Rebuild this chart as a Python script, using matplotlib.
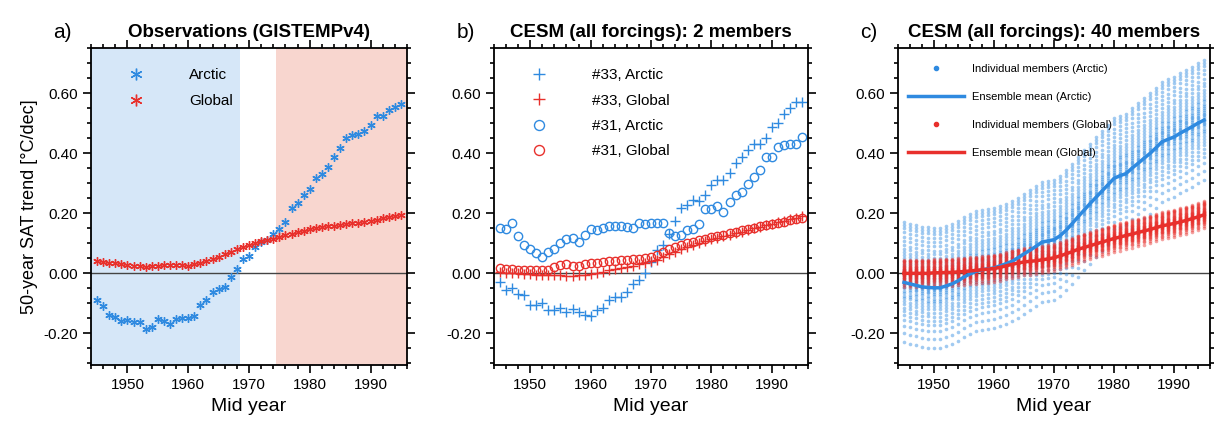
import numpy as np
import matplotlib
matplotlib.use("Agg")
import matplotlib.pyplot as plt
from matplotlib.ticker import MultipleLocator

plt.rcParams['font.family'] = ['Liberation Sans', 'DejaVu Sans']

years = list(range(1945, 1996))

obs_arctic = [-0.090,-0.107,-0.137,-0.146,-0.157,-0.155,-0.162,-0.162,-0.184,-0.177,
              -0.151,-0.157,-0.168,-0.151,-0.149,-0.149,-0.141,-0.104,-0.088,-0.062,
              -0.051,-0.046,-0.012,0.016,0.049,0.057,0.088,0.104,0.112,0.130,
              0.149,0.171,0.218,0.234,0.262,0.282,0.318,0.332,0.354,0.388,
              0.416,0.449,0.460,0.463,0.474,0.493,0.523,0.525,0.543,0.552,0.562]
obs_global = [0.040,0.037,0.035,0.033,0.030,0.027,0.025,0.024,0.022,0.023,
              0.025,0.027,0.028,0.028,0.027,0.026,0.030,0.034,0.040,0.047,
              0.055,0.063,0.072,0.080,0.088,0.095,0.102,0.108,0.112,0.115,
              0.120,0.126,0.132,0.138,0.142,0.146,0.150,0.153,0.156,0.159,
              0.162,0.165,0.166,0.169,0.172,0.175,0.179,0.183,0.186,0.190,0.195]

m33_arctic = [-0.029,-0.057,-0.049,-0.068,-0.073,-0.104,-0.104,-0.098,-0.123,-0.123,
              -0.116,-0.129,-0.120,-0.129,-0.137,-0.143,-0.123,-0.116,-0.088,-0.079,
              -0.079,-0.062,-0.037,-0.021,0.000,0.038,0.077,0.093,0.132,0.173,
              0.216,0.229,0.243,0.240,0.260,0.293,0.312,0.310,0.334,0.368,
              0.388,0.410,0.429,0.429,0.449,0.486,0.501,0.530,0.551,0.571,0.571]
m33_global = [0.003,0.002,0.001,0.000,-0.002,-0.003,-0.004,-0.005,-0.006,-0.006,
              -0.007,-0.008,-0.008,-0.006,-0.005,-0.003,0.000,0.005,0.010,0.015,
              0.018,0.022,0.026,0.030,0.034,0.040,0.046,0.055,0.064,0.072,
              0.080,0.088,0.096,0.102,0.108,0.113,0.118,0.123,0.128,0.133,
              0.138,0.144,0.150,0.155,0.160,0.165,0.170,0.175,0.180,0.185,0.190]
m31_arctic = [0.152,0.149,0.166,0.123,0.096,0.080,0.069,0.054,0.070,0.082,
              0.102,0.113,0.118,0.104,0.127,0.149,0.143,0.152,0.158,0.158,
              0.158,0.154,0.152,0.166,0.163,0.168,0.168,0.166,0.134,0.124,
              0.127,0.143,0.149,0.163,0.213,0.213,0.223,0.204,0.238,0.260,
              0.271,0.297,0.321,0.343,0.386,0.386,0.419,0.427,0.430,0.432,0.454]
m31_global = [0.018,0.015,0.013,0.011,0.012,0.010,0.011,0.010,0.012,0.020,
              0.028,0.030,0.026,0.024,0.030,0.035,0.036,0.037,0.040,0.042,
              0.044,0.046,0.047,0.048,0.050,0.055,0.062,0.070,0.080,0.088,
              0.094,0.100,0.105,0.110,0.115,0.120,0.124,0.128,0.133,0.138,
              0.143,0.148,0.152,0.156,0.160,0.164,0.168,0.172,0.176,0.180,0.184]

ens_arctic = [-0.030,-0.035,-0.040,-0.045,-0.047,-0.048,-0.048,-0.042,-0.035,-0.025,
              -0.012,-0.002,0.007,0.012,0.015,0.018,0.025,0.032,0.040,0.052,
              0.065,0.077,0.090,0.104,0.108,0.112,0.125,0.143,0.165,0.188,
              0.210,0.232,0.253,0.274,0.295,0.316,0.325,0.332,0.350,0.366,
              0.383,0.399,0.418,0.438,0.446,0.454,0.466,0.477,0.488,0.500,0.510]
ens_global = [0.000,0.000,0.000,0.000,0.000,0.002,0.002,0.003,0.003,0.005,
              0.006,0.008,0.010,0.012,0.014,0.016,0.020,0.025,0.030,0.034,
              0.038,0.040,0.042,0.045,0.048,0.052,0.058,0.065,0.072,0.080,
              0.086,0.092,0.098,0.104,0.110,0.116,0.121,0.126,0.131,0.136,
              0.141,0.146,0.152,0.158,0.162,0.166,0.171,0.176,0.182,0.188,0.195]
# hand-set relative member positions within the ensemble spread
member_offsets = [-1.0,-0.85,-0.72,-0.62,-0.55,-0.48,-0.42,-0.36,-0.31,-0.26,
                  -0.22,-0.18,-0.14,-0.10,-0.07,-0.04,-0.02,0.0,0.02,0.05,
                  0.08,0.11,0.14,0.17,0.2,0.23,0.27,0.31,0.35,0.4,
                  0.45,0.5,0.56,0.62,0.69,0.76,0.83,0.9,0.95,1.0]
arctic_halfwidth = 0.2
global_halfwidth = 0.045

BLUE = '#2f8ae0'
RED = '#e8302c'

fig = plt.figure(figsize=(12.14, 4.23), dpi=100)
W, H = 1214, 423
def mkax(x0, x1):
    return fig.add_axes([x0 / W, (H - 365) / H, (x1 - x0) / W, (365 - 48) / H])
axes = [mkax(91, 407), mkax(494, 808), mkax(898, 1210)]
titles = ['Observations (GISTEMPv4)', 'CESM (all forcings): 2 members', 'CESM (all forcings): 40 members']
for ax, lab, t in zip(axes, ['a)', 'b)', 'c)'], titles):
    ax.set_xlim(1944, 1996)
    ax.set_ylim(-0.305, 0.75)
    ax.axhline(0, color='#444444', lw=1.0, zorder=1)
    ax.xaxis.set_major_locator(MultipleLocator(10))
    ax.xaxis.set_minor_locator(MultipleLocator(2))
    ax.yaxis.set_minor_locator(MultipleLocator(0.05))
    ax.set_yticks([-0.2, 0.0, 0.2, 0.4, 0.6])
    ax.set_yticklabels(['-0.20', '0.00', '0.20', '0.40', '0.60'])
    ax.tick_params(which='both', direction='out', top=True, right=True, labelsize=11, width=1.2)
    ax.tick_params(which='major', length=6)
    ax.tick_params(which='minor', length=3)
    for s in ax.spines.values():
        s.set_linewidth(1.3)
    ax.set_xlabel('Mid year', fontsize=14)
    ax.set_title(t, fontsize=13.5, fontweight='bold', pad=8)
    ax.text(-0.12, 1.02, lab, transform=ax.transAxes, fontsize=15, va='bottom')

ax = axes[0]
ax.set_ylabel('50-year SAT trend [°C/dec]', fontsize=13)
ax.axvspan(1944, 1968.5, color='#d6e7f8', zorder=0, lw=0)
ax.axvspan(1974.5, 1996, color='#f8d6cf', zorder=0, lw=0)
ax.plot(years, obs_arctic, ls='none', marker=(6, 2, 0), ms=6, color=BLUE, mew=1.0, label='Arctic')
ax.plot(years, obs_global, ls='none', marker=(6, 2, 0), ms=6, color=RED, mew=1.0, label='Global')
ax.legend(loc='upper left', bbox_to_anchor=(0.05, 0.98), frameon=False, fontsize=11,
          handletextpad=2.5, labelspacing=0.8, markerscale=1.4)

ax = axes[1]
ax.plot(years, m33_arctic, ls='none', marker='+', ms=7, color=BLUE, mew=1.0, label='#33, Arctic')
ax.plot(years, m33_global, ls='none', marker='+', ms=7, color=RED, mew=1.0, label='#33, Global')
ax.plot(years, m31_arctic, ls='none', marker='o', ms=6, mfc='none', color=BLUE, mew=1.0, label='#31, Arctic')
ax.plot(years, m31_global, ls='none', marker='o', ms=6, mfc='none', color=RED, mew=1.0, label='#31, Global')
ax.legend(loc='upper left', bbox_to_anchor=(0.05, 0.98), frameon=False, fontsize=11,
          handletextpad=2.5, labelspacing=0.75, markerscale=1.2)

ax = axes[2]
for o in member_offsets:
    ax.plot(years, [m + o * arctic_halfwidth for m in ens_arctic], ls='none', marker='o',
            ms=2.6, color=BLUE, alpha=0.45, mew=0)
for o in member_offsets:
    ax.plot(years, [m + o * global_halfwidth for m in ens_global], ls='none', marker='o',
            ms=2.6, color=RED, alpha=0.45, mew=0)
ax.plot([], [], ls='none', marker='o', ms=3, color=BLUE, label='Individual members (Arctic)')
ax.plot(years, ens_arctic, color=BLUE, lw=2.5, label='Ensemble mean (Arctic)')
ax.plot([], [], ls='none', marker='o', ms=3, color=RED, label='Individual members (Global)')
ax.plot(years, ens_global, color=RED, lw=2.5, label='Ensemble mean (Global)')
ax.legend(loc='upper left', bbox_to_anchor=(0.0, 0.98), frameon=False, fontsize=8,
          handlelength=5, labelspacing=1.6)

fig.savefig('out.png', dpi=100)
